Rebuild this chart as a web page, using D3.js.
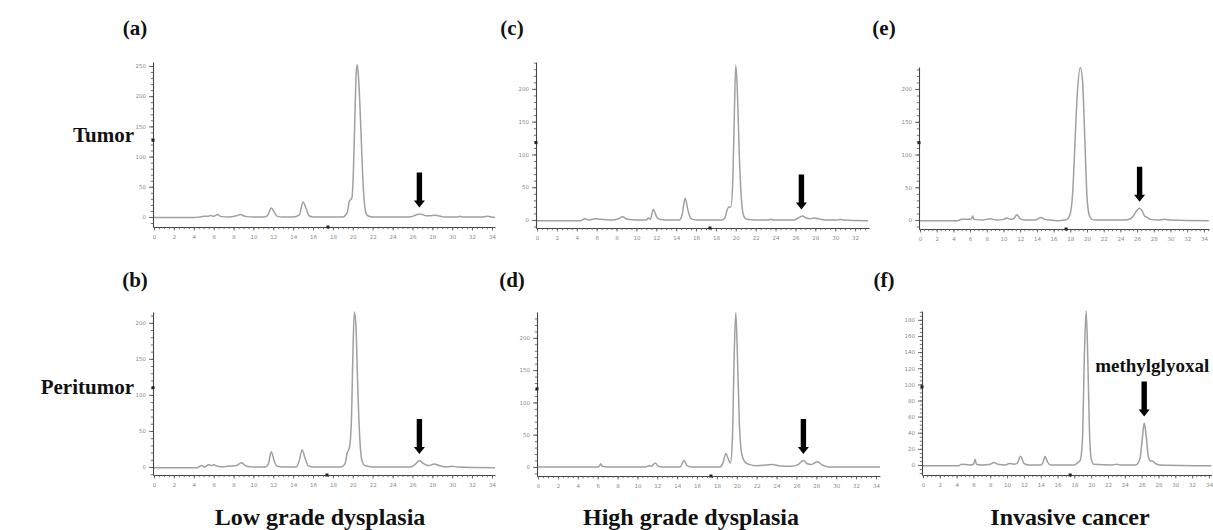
<!DOCTYPE html>
<html>
<head>
<meta charset="utf-8">
<script src="https://cdn.jsdelivr.net/npm/d3@7/dist/d3.min.js"></script>
<style>
  body { margin: 0; background: #fff; }
  .tick text { font-family: 'DejaVu Sans', sans-serif; fill: #8a8a8a; }
  .label { font-family: 'Liberation Serif', serif; font-weight: bold; fill: #111; }
</style>
</head>
<body>
<svg id="chart" width="1213" height="530"></svg>
<script>
'use strict'

// retention time (min) vs detector response
const traceA = [[0, -1], [4, -1], [4.6, 0], [5.0, 1], [5.4, 1], [5.7, 2.5], [6.0, 1], [6.4, 4], [6.7, 1], [7.5, 0], [8.2, 1.5], [8.7, 4], [9.2, 1], [10, 0], [11, 0], [11.4, 2], [11.8, 15], [12.1, 8], [12.4, 1], [13, 0], [14, 0], [14.6, 3], [15.0, 25], [15.3, 14], [15.6, 2], [16, 0], [19.0, 0], [19.45, 8], [19.65, 26], [19.9, 31], [20.05, 70], [20.2, 160], [20.35, 240], [20.45, 252], [20.6, 225], [20.85, 130], [21.05, 50], [21.25, 12], [21.5, 2], [22, 0], [25.8, 0], [26.3, 3], [26.7, 5], [27.0, 4], [27.4, 2], [27.8, 2], [28.2, 3], [28.6, 2], [29.2, 0], [30.5, 0], [30.8, 1], [31.1, 0], [33, 0], [33.5, 1], [34, 0], [34.3, -1]]
const traceC = [[0, -1], [4.4, -1], [4.8, 2], [5.2, 0], [5.6, 1], [5.9, 2], [6.4, 1], [7.5, 0], [8.2, 2], [8.6, 5], [9.1, 1], [10, 0], [11, 0], [11.2, 3], [11.4, 1], [11.7, 16], [12.0, 6], [12.3, 1], [13, 0], [14.3, 0], [14.6, 8], [14.9, 33], [15.2, 14], [15.5, 2], [16, 0], [18.6, 0], [18.9, 3], [19.1, 14], [19.3, 20], [19.5, 20], [19.7, 60], [19.85, 160], [20.0, 236], [20.15, 200], [20.35, 100], [20.55, 35], [20.8, 6], [21.1, 1], [22, 0], [23.2, 0], [23.5, 1], [23.8, 0], [25.8, 0], [26.3, 3], [26.7, 6], [27.1, 3], [27.5, 2], [27.9, 3], [28.3, 2], [29, 0], [30.3, 0], [30.5, 1], [30.8, 0], [33.3, -1]]
const traceE = [[0, -1], [4.5, -1], [5.0, 1], [6.0, 1], [6.2, 3], [6.3, 6], [6.45, 1], [7.5, 0], [8.4, 2], [9.2, 0], [10.0, 1], [10.4, 3], [10.8, 1], [11.2, 2], [11.6, 8], [12.0, 2], [12.5, 0], [13.8, 0], [14.3, 3], [14.5, 4], [14.9, 1], [15.5, 0], [16.5, -1], [17.3, 0], [17.6, 1], [18.0, 10], [18.3, 45], [18.55, 115], [18.85, 195], [19.2, 233], [19.45, 215], [19.75, 120], [20.0, 35], [20.3, 6], [20.6, 1], [21, 0], [24.5, 0], [25.2, 2], [25.6, 7], [26.0, 15], [26.3, 18], [26.6, 14], [26.9, 6], [27.2, 4], [27.6, 1], [28.5, 0], [29.3, 1], [30, 0], [34.6, -1]]
const traceB = [[0, -1], [4.3, -1], [4.8, 2], [5.1, 0], [5.5, 3], [5.8, 2], [6.0, 3], [6.4, 1], [7.0, 0], [7.3, 1], [8.3, 2], [8.8, 6], [9.3, 1], [10, 0], [11.2, 0], [11.5, 4], [11.8, 21], [12.1, 8], [12.4, 1], [13, 0], [14.3, 0], [14.6, 8], [14.9, 24], [15.2, 12], [15.5, 2], [16, 0], [18.8, 0], [19.2, 4], [19.45, 20], [19.65, 26], [19.85, 60], [20.0, 150], [20.15, 215], [20.3, 200], [20.5, 110], [20.7, 40], [20.9, 10], [21.2, 2], [22, 0], [25.8, 0], [26.3, 4], [26.7, 9], [27.1, 5], [27.6, 2], [28.2, 4], [28.7, 2], [29.3, 0], [30, 1], [30.5, 0], [34.3, -1]]
const traceD = [[0, 0], [6.0, 0], [6.2, 2], [6.3, 5], [6.45, 1], [7, 0], [10.8, 0], [11.2, 2], [11.4, 1], [11.8, 6], [12.1, 1], [12.5, 0], [14.3, 0], [14.7, 10], [15.0, 2], [15.4, 0], [18.3, 0], [18.6, 6], [18.9, 21], [19.15, 12], [19.35, 6], [19.55, 40], [19.75, 180], [19.9, 239], [20.05, 180], [20.25, 70], [20.5, 20], [20.8, 8], [21.2, 4], [22, 2], [23, 3], [23.6, 4], [24.2, 2], [25.5, 1], [26.2, 4], [26.7, 10], [27.1, 5], [27.5, 4], [28.1, 8], [28.6, 3], [29.3, 0], [34.4, 0]]
const traceF = [[0, -1], [4.2, -1], [4.6, 1], [5.5, 0], [6.0, 1], [6.2, 7], [6.35, 1], [7, 0], [8.0, 1], [8.4, 3], [8.9, 1], [9.8, 0], [10.3, 2], [10.8, 1], [11.2, 2], [11.6, 11], [12.0, 2], [12.5, 0], [14.0, 0], [14.3, 4], [14.5, 11], [14.8, 4], [15.2, 0], [18.0, 0], [18.4, 3], [18.7, 6], [18.95, 30], [19.2, 140], [19.4, 191], [19.6, 130], [19.8, 40], [20.0, 8], [20.3, 1], [22.5, 0], [23.0, 1], [23.5, 0], [25.3, 0], [25.8, 8], [26.05, 30], [26.3, 52], [26.55, 35], [26.8, 10], [27.05, 5], [27.3, 5], [27.6, 2], [28.2, 0], [34.3, -1]]

const yTicks250 = [0, 50, 100, 150, 200, 250]
const yTicks200 = [0, 50, 100, 150, 200]
const yTicks180 = [0, 20, 40, 60, 80, 100, 120, 140, 160, 180]
const xTicks34 = [0, 2, 4, 6, 8, 10, 12, 14, 16, 18, 20, 22, 24, 26, 28, 30, 32, 34]
const xTicks32 = [0, 2, 4, 6, 8, 10, 12, 14, 16, 18, 20, 22, 24, 26, 28, 30, 32]

// arrow: [time, value] of the marked peak
const arrowA = [26.7, 5]
const arrowC = [26.6, 6]
const arrowE = [26.3, 18]
const arrowB = [26.7, 9]
const arrowD = [26.7, 10]
const arrowF = [26.3, 52]

// cursor marks on each axis: [time, value]
const cursorMarks = [[17.5, 127], [17.4, 118], [17.5, 118], [17.4, 110], [17.4, 121], [17.5, 97]]

const panelLetters = ['(a)', '(c)', '(e)', '(b)', '(d)', '(f)']
const rowLabels = ['Tumor', 'Peritumor']
const columnLabels = ['Low grade dysplasia', 'High grade dysplasia', 'Invasive cancer']
const peakName = 'methylglyoxal'

const svg = d3.select('#chart')

// pixel frames of each small chromatogram
const frames = [
  { x0: 154, px: 9.94, tEnd: 34.3, yBottom: 227, yTop: 62, vMin: -16.6, vMax: 256.6, minor: 10 },
  { x0: 537, px: 9.94, tEnd: 33.4, yBottom: 228, yTop: 62, vMin: -12.2, vMax: 241, minor: 10 },
  { x0: 920, px: 8.35, tEnd: 34.6, yBottom: 229, yTop: 67, vMin: -13.7, vMax: 233.6, minor: 10 },
  { x0: 154, px: 9.94, tEnd: 34.3, yBottom: 475, yTop: 312, vMin: -11.1, vMax: 215, minor: 10 },
  { x0: 538, px: 9.94, tEnd: 34.4, yBottom: 476, yTop: 312, vMin: -14, vMax: 240, minor: 10 },
  { x0: 923, px: 8.41, tEnd: 34.3, yBottom: 475, yTop: 311, vMin: -12.4, vMax: 191, minor: 5 }
]

const panels = [
  { trace: traceA, yTicks: yTicks250, xTicks: xTicks34, arrow: arrowA },
  { trace: traceC, yTicks: yTicks200, xTicks: xTicks32, arrow: arrowC },
  { trace: traceE, yTicks: yTicks200, xTicks: xTicks34, arrow: arrowE },
  { trace: traceB, yTicks: yTicks200, xTicks: xTicks34, arrow: arrowB },
  { trace: traceD, yTicks: yTicks200, xTicks: xTicks34, arrow: arrowD },
  { trace: traceF, yTicks: yTicks180, xTicks: xTicks34, arrow: arrowF }
]

function styleAxis (sel) {
  sel.select('.domain').attr('stroke', '#444').attr('stroke-width', 1.1)
  sel.selectAll('.tick line').attr('stroke', '#555').attr('stroke-width', 0.8)
  sel.selectAll('.tick text').style('font-size', '5.5px')
}

function drawPanel (p, i) {
  const f = frames[i]
  const x = d3.scaleLinear().domain([0, f.tEnd]).range([f.x0, f.x0 + f.tEnd * f.px])
  const y = d3.scaleLinear().domain([f.vMin, f.vMax]).range([f.yBottom, f.yTop])
  const g = svg.append('g').attr('class', `panel panel-${i}`)
  const axisX = f.x0 - 1

  // minor ticks first, then the labelled ones on top
  const yMinor = d3.range(Math.ceil(f.vMin / f.minor) * f.minor, f.vMax, f.minor)
  g.append('g')
    .attr('transform', `translate(${axisX},0)`)
    .call(d3.axisLeft(y).tickValues(yMinor).tickSize(2.2).tickFormat('').tickSizeOuter(0))
    .call(styleAxis)

  g.append('g')
    .attr('transform', `translate(${axisX},0)`)
    .call(d3.axisLeft(y).tickValues(p.yTicks).tickSize(4).tickPadding(3).tickSizeOuter(0))
    .call(styleAxis)
    .call(s => s.select('.domain').remove())

  const xScaleAxis = x.copy().domain([-0.1, f.tEnd]).range([axisX, x(f.tEnd)])
  g.append('g')
    .attr('transform', `translate(0,${f.yBottom})`)
    .call(d3.axisBottom(xScaleAxis).tickValues(d3.range(0, f.tEnd, 0.5)).tickSize(2.2).tickFormat('').tickSizeOuter(0))
    .call(styleAxis)

  g.append('g')
    .attr('transform', `translate(0,${f.yBottom})`)
    .call(d3.axisBottom(x).tickValues(p.xTicks).tickSize(3.5).tickPadding(5).tickSizeOuter(0))
    .call(styleAxis)
    .call(s => s.select('.domain').remove())

  const line = d3.line()
    .x(d => x(d[0]))
    .y(d => y(d[1]))
    .curve(d3.curveMonotoneX)

  g.append('path')
    .datum(p.trace)
    .attr('d', line)
    .attr('fill', 'none')
    .attr('stroke', '#a0a0a0')
    .attr('stroke-width', 1.5)
    .attr('stroke-linejoin', 'round')

  // cursor marks on the axes
  const mark = cursorMarks[i]
  g.append('rect').attr('x', axisX - 1.5).attr('y', y(mark[1]) - 1.5).attr('width', 3).attr('height', 3).attr('fill', '#222')
  g.append('rect').attr('x', x(mark[0]) - 1.5).attr('y', f.yBottom - 1.5).attr('width', 3).attr('height', 3).attr('fill', '#222')

  // downward arrow over the marked peak
  const ax = x(p.arrow[0])
  const tip = y(p.arrow[1]) - 6.5
  const len = 35
  const head = 7
  const shaft = 2.7
  const headHalf = 5.5
  const arrowPts = [
    [ax - shaft, tip - len], [ax + shaft, tip - len], [ax + shaft, tip - head],
    [ax + headHalf, tip - head], [ax, tip], [ax - headHalf, tip - head], [ax - shaft, tip - head]
  ]
  g.append('path')
    .attr('d', d3.line()(arrowPts) + 'Z')
    .attr('fill', '#000')

  return { x, y, tip, ax }
}

const drawn = panels.map(drawPanel)

// panel letters
const letterPos = [[135, 35], [512, 35], [884, 35], [135, 287], [512, 287], [884, 287]]
panelLetters.forEach((t, i) => {
  svg.append('text').attr('class', 'label')
    .attr('x', letterPos[i][0]).attr('y', letterPos[i][1])
    .attr('text-anchor', 'middle')
    .style('font-size', '21px')
    .text(t)
})

const rowY = [142, 394]
rowLabels.forEach((t, i) => {
  svg.append('text').attr('class', 'label')
    .attr('x', 134).attr('y', rowY[i])
    .attr('text-anchor', 'end')
    .style('font-size', '21px')
    .text(t)
})

const colX = [320, 691, 1070]
columnLabels.forEach((t, i) => {
  svg.append('text').attr('class', 'label')
    .attr('x', colX[i]).attr('y', 525)
    .attr('text-anchor', 'middle')
    .style('font-size', '24px')
    .text(t)
})

const f6 = drawn[5]
svg.append('text').attr('class', 'label')
  .attr('x', f6.ax + 8).attr('y', f6.tip - 45)
  .attr('text-anchor', 'middle')
  .style('font-size', '19px')
  .text(peakName)
</script>
</body>
</html>
